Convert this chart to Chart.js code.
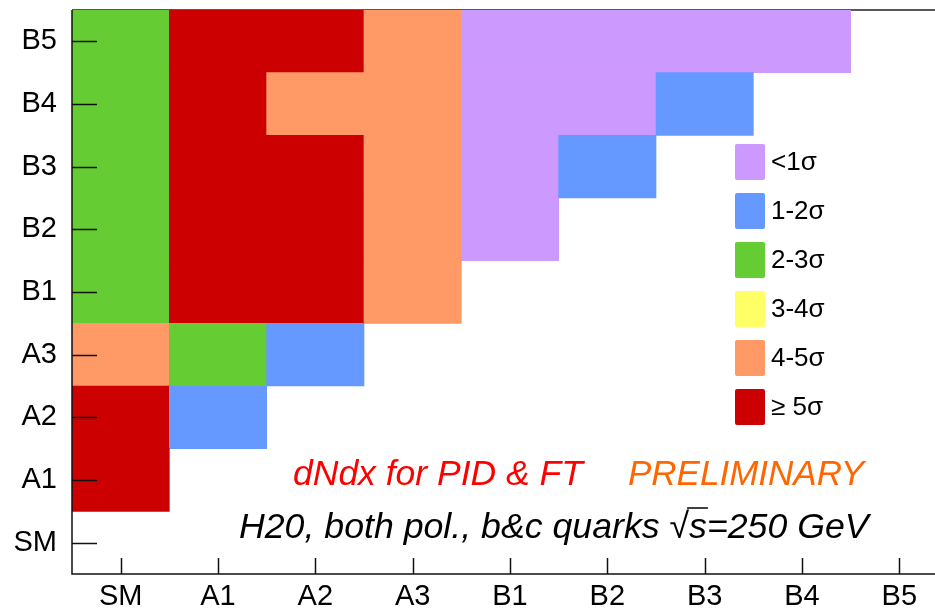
<!DOCTYPE html>
<html>
<head>
<meta charset="utf-8">
<title>Model discrimination</title>
<script src="https://cdn.jsdelivr.net/npm/chart.js@4.4.1/dist/chart.umd.min.js"></script>
<style>
  html, body { margin: 0; padding: 0; background: #fff; overflow: hidden; }
  #wrap { width: 960px; height: 609px; }
</style>
</head>
<body>
<div id="wrap"><canvas id="sigChart" width="960" height="609"></canvas></div>
<script>
// models on both axes, bottom to top / left to right
const models = ['SM', 'A1', 'A2', 'A3', 'B1', 'B2', 'B3', 'B4', 'B5'];

// significance classes
const levelLabels = ['<1\u03c3', '1-2\u03c3', '2-3\u03c3', '3-4\u03c3', '4-5\u03c3', '\u2265 5\u03c3'];
const levelColors = ['#cc99ff', '#6699ff', '#66cc33', '#ffff66', '#ff9966', '#cc0000'];

// class index for each column (x model), listed by row SM..B5; null = not compared
const sigSM = [null, 5, 5, 4, 2, 2, 2, 2, 2];
const sigA1 = [null, null, 1, 2, 5, 5, 5, 5, 5];
const sigA2 = [null, null, null, 1, 5, 5, 5, 4, 5];
const sigA3 = [null, null, null, null, 4, 4, 4, 4, 4];
const sigB1 = [null, null, null, null, null, 0, 0, 0, 0];
const sigB2 = [null, null, null, null, null, null, 1, 0, 0];
const sigB3 = [null, null, null, null, null, null, null, 1, 0];
const sigB4 = [null, null, null, null, null, null, null, null, 0];
const sigB5 = [null, null, null, null, null, null, null, null, null];

const columns = [sigSM, sigA1, sigA2, sigA3, sigB1, sigB2, sigB3, sigB4, sigB5];

// one dataset per row, each cell a floating bar [row, row + 1]
const datasets = models.map((rowName, r) => ({
  label: rowName,
  data: columns.map(col => col[r] === null ? null : [r, r + 1]),
  backgroundColor: columns.map(col => col[r] === null ? 'rgba(0,0,0,0)' : levelColors[col[r]]),
  borderWidth: 0,
  grouped: false,
  barPercentage: 1,
  categoryPercentage: 1
}));

const FONT = '"Liberation Sans", Arial, Helvetica, sans-serif';

const framePlugin = {
  id: 'frame',
  beforeDatasetsDraw(chart) {
    const { ctx, chartArea: a } = chart;
    ctx.save();
    ctx.strokeStyle = '#222';
    ctx.lineWidth = 1.5;
    ctx.beginPath();
    ctx.moveTo(a.left, a.top);
    ctx.lineTo(a.right, a.top);
    ctx.lineTo(a.right, a.bottom);
    ctx.stroke();
    ctx.restore();
  },
  afterDatasetsDraw(chart) {
    const { ctx, chartArea: a, scales } = chart;
    ctx.save();
    ctx.strokeStyle = '#111';
    ctx.lineWidth = 1.5;
    ctx.beginPath();
    ctx.moveTo(a.left, a.top);
    ctx.lineTo(a.left, a.bottom);
    ctx.lineTo(a.right, a.bottom);
    // inward ticks
    scales.x.ticks.forEach((t, i) => {
      const px = Math.round(scales.x.getPixelForTick(i)) + 0.5;
      ctx.moveTo(px, a.bottom);
      ctx.lineTo(px, a.bottom - 16);
    });
    scales.y.ticks.forEach((t, i) => {
      const py = Math.round(scales.y.getPixelForTick(i)) + 0.5;
      ctx.moveTo(a.left, py);
      ctx.lineTo(a.left + 25, py);
    });
    ctx.stroke();

    // legend
    ctx.textBaseline = 'middle';
    ctx.textAlign = 'left';
    ctx.font = '26px ' + FONT;
    levelLabels.forEach((lab, i) => {
      const y0 = 144 + i * 49;
      ctx.fillStyle = levelColors[i];
      ctx.beginPath();
      ctx.roundRect(735, y0, 30, 36, 2);
      ctx.fill();
      ctx.fillStyle = '#000';
      ctx.fillText(lab, 771, y0 + 19);
    });

    // annotations
    ctx.textBaseline = 'alphabetic';
    ctx.font = 'italic 35.5px ' + FONT;
    ctx.fillStyle = '#ff0000';
    ctx.fillText('dNdx for PID & FT', 293, 485);
    ctx.font = 'italic 35px ' + FONT;
    ctx.fillStyle = '#ff6600';
    ctx.fillText('PRELIMINARY', 628, 485);

    ctx.font = 'italic 35.7px ' + FONT;
    ctx.fillStyle = '#000';
    let x = 239;
    const base = 538;
    const head = 'H20, both pol., b&c quarks ';
    ctx.fillText(head, x, base);
    x += ctx.measureText(head).width;
    ctx.font = '35.7px ' + FONT;
    ctx.fillText('\u221a', x, base);
    const rootStart = x + ctx.measureText('\u221a').width - 2;
    x += ctx.measureText('\u221a').width;
    ctx.font = 'italic 35.7px ' + FONT;
    ctx.fillText('s', x, base);
    x += ctx.measureText('s').width;
    ctx.strokeStyle = '#000';
    ctx.lineWidth = 1.5;
    ctx.beginPath();
    ctx.moveTo(rootStart, 508);
    ctx.lineTo(x + 1, 508);
    ctx.stroke();
    ctx.fillText('=250 GeV', x, base);
    ctx.restore();
  }
};

const ctx = document.getElementById('sigChart').getContext('2d');
const sigChart = new Chart(ctx, {
  type: 'bar',
  data: { labels: models, datasets: datasets },
  options: {
    responsive: false,
    animation: false,
    layout: { padding: { top: 10, right: 12, left: 0, bottom: 0 } },
    plugins: {
      legend: { display: false },
      tooltip: { enabled: false }
    },
    scales: {
      x: {
        type: 'category',
        offset: true,
        grid: { display: false, drawTicks: false },
        border: { display: false },
        ticks: {
          color: '#000',
          font: { family: FONT, size: 29 },
          padding: 6,
          maxRotation: 0,
          autoSkip: false
        },
        afterFit(scale) {
          scale.height = 35;
          scale.paddingLeft = 0;
          scale.paddingRight = 0;
        }
      },
      y: {
        type: 'linear',
        min: 0,
        max: 9,
        grid: { display: false, drawTicks: false },
        border: { display: false },
        afterBuildTicks(scale) {
          scale.ticks = models.map((m, i) => ({ value: i + 0.5 }));
        },
        ticks: {
          color: '#000',
          font: { family: FONT, size: 29 },
          padding: 15,
          callback: (v) => models[Math.floor(v)]
        },
        afterFit(scale) {
          scale.width = 72;
          scale.paddingTop = 0;
          scale.paddingBottom = 0;
        }
      }
    }
  },
  plugins: [framePlugin]
});
</script>
</body>
</html>
